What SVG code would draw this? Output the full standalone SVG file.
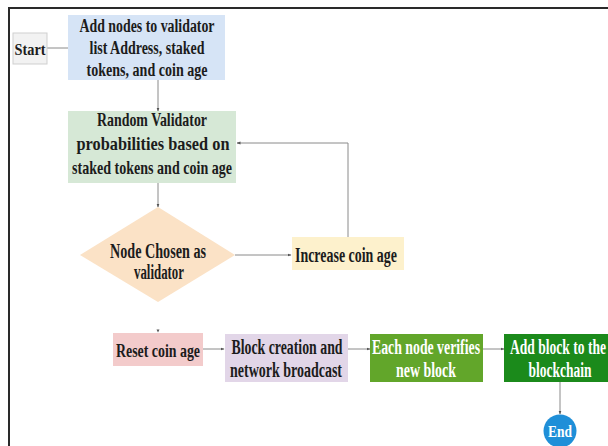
<svg xmlns="http://www.w3.org/2000/svg" width="608" height="446" viewBox="0 0 608 446">
<defs>
<style>
.t{font-family:"Liberation Serif","Times New Roman",serif;font-weight:bold;fill:#1c1c1c;text-anchor:middle}
.w{fill:#ffffff}
.c{fill:none;stroke:#8a8a8a;stroke-width:1}
</style>
<marker id="ah" markerWidth="4" markerHeight="4" refX="3.5" refY="2" orient="auto" markerUnits="userSpaceOnUse">
<path d="M0,0.5 L4,2 L0,3.5 Z" fill="#555"/>
</marker>
</defs>
<rect width="608" height="446" fill="#ffffff"/>
<path d="M9,446 V8 H608" fill="none" stroke="#2a2a2a" stroke-width="2"/>

<g id="connectors">
<path class="c" d="M47,48 H68"/>
<path class="c" d="M158,80 V111" marker-end="url(#ah)"/>
<path class="c" d="M158,183 V207" marker-end="url(#ah)"/>
<path class="c" d="M235,255 H291" marker-end="url(#ah)"/>
<path class="c" d="M348,237 V143 H237" marker-end="url(#ah)"/>
<path d="M156.5,329.5 L158,332.5 L159.5,329.5 Z" fill="#555"/>
<path class="c" d="M203,349 H224" marker-end="url(#ah)"/>
<path class="c" d="M348,349 H370" marker-end="url(#ah)"/>
<path class="c" d="M483,349 H504" marker-end="url(#ah)"/>
<path class="c" d="M560,382 V414" marker-end="url(#ah)"/>
</g>

<g id="start">
<rect x="13" y="33" width="34" height="31" fill="#f2f2f2" stroke="#cfcfcf" stroke-width="1"/>
<text class="t" x="30" y="55" font-size="17" textLength="31" lengthAdjust="spacingAndGlyphs">Start</text>
</g>

<g id="add-nodes">
<rect x="68" y="15" width="157" height="65" fill="#d6e4f6"/>
<text class="t" x="147" y="32" font-size="18" textLength="135" lengthAdjust="spacingAndGlyphs">Add nodes to validator</text>
<text class="t" x="147" y="54" font-size="18" textLength="115" lengthAdjust="spacingAndGlyphs">list Address, staked</text>
<text class="t" x="147" y="76" font-size="18" textLength="121" lengthAdjust="spacingAndGlyphs">tokens, and coin age</text>
</g>

<g id="random-validator">
<rect x="68" y="111" width="168" height="72" fill="#d6e8d6"/>
<text class="t" x="152" y="126" font-size="19" textLength="110" lengthAdjust="spacingAndGlyphs">Random Validator</text>
<text class="t" x="153" y="150" font-size="19" textLength="153" lengthAdjust="spacingAndGlyphs">probabilities based on</text>
<text class="t" x="152" y="174" font-size="19" textLength="160" lengthAdjust="spacingAndGlyphs">staked tokens and coin age</text>
</g>

<g id="node-chosen">
<path d="M158,207 L235,255 L158,302 L80,255 Z" fill="#fbe2c6"/>
<text class="t" x="158" y="258" font-size="20" textLength="96" lengthAdjust="spacingAndGlyphs">Node Chosen as</text>
<text class="t" x="159" y="279" font-size="20" textLength="50" lengthAdjust="spacingAndGlyphs">validator</text>
</g>

<g id="increase-coin-age">
<rect x="292" y="237" width="112" height="33" fill="#fdf1cc"/>
<text class="t" x="346" y="262" font-size="20" textLength="102" lengthAdjust="spacingAndGlyphs">Increase coin age</text>
</g>

<g id="reset-coin-age">
<rect x="113" y="333" width="90" height="33" fill="#f3cbcb"/>
<text class="t" x="158" y="357" font-size="19" textLength="84" lengthAdjust="spacingAndGlyphs">Reset coin age</text>
</g>

<g id="block-creation">
<rect x="225" y="334" width="123" height="48" fill="#e2d6e8"/>
<text class="t" x="287" y="354" font-size="20" textLength="111" lengthAdjust="spacingAndGlyphs">Block creation and</text>
<text class="t" x="286" y="377" font-size="20" textLength="112" lengthAdjust="spacingAndGlyphs">network broadcast</text>
</g>

<g id="each-node-verifies">
<rect x="370" y="334" width="113" height="48" fill="#62a62a"/>
<text class="t w" x="426" y="354" font-size="20" textLength="108" lengthAdjust="spacingAndGlyphs">Each node verifies</text>
<text class="t w" x="426" y="377" font-size="20" textLength="60" lengthAdjust="spacingAndGlyphs">new block</text>
</g>

<g id="add-block">
<rect x="504" y="334" width="104" height="48" fill="#1b8a1b"/>
<text class="t w" x="510" y="354" font-size="20" textLength="96" lengthAdjust="spacingAndGlyphs" style="text-anchor:start">Add block to the</text>
<text class="t w" x="560" y="377" font-size="20" textLength="63" lengthAdjust="spacingAndGlyphs">blockchain</text>
</g>

<g id="end">
<circle cx="560" cy="431" r="16.5" fill="#1f8fd8"/>
<text class="t w" x="560" y="437" font-size="17" textLength="24" lengthAdjust="spacingAndGlyphs">End</text>
</g>
</svg>
